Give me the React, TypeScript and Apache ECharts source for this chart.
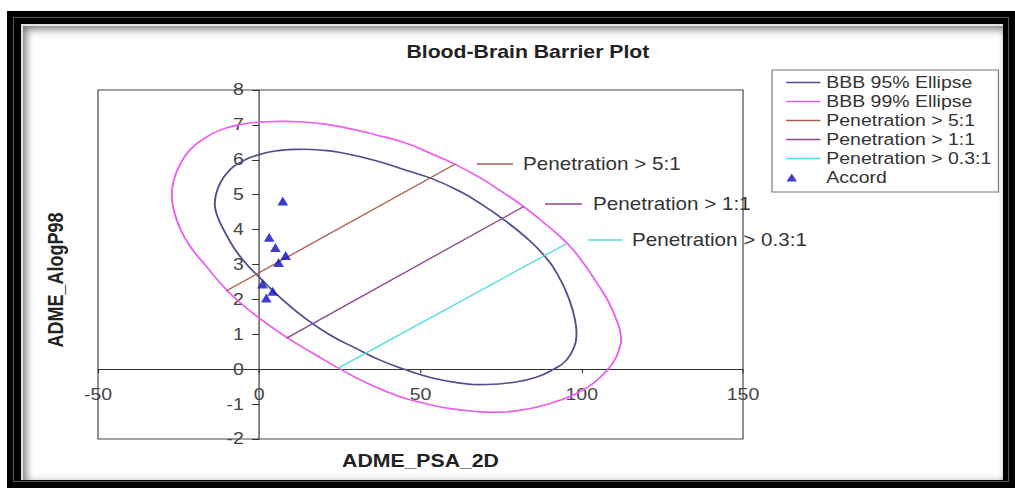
import React, { useEffect, useRef } from "react";
import * as echarts from "echarts";

// The reference picture is horizontally stretched; the chart is drawn in a
// narrower box and stretched with CSS to match it.
const SX = 1015 / 860;
const CW = 860;
const CH = 488;
const cx = (px: number) => px / SX;

const FONT = '"Liberation Sans", Arial, Helvetica, sans-serif';

// ---- data (ADME_PSA_2D, ADME_AlogP98) ----
const ellipse95: number[][] = [
  [-5.99, 5.92], [0.0, 6.15], [6.43, 6.27], [12.64, 6.3], [18.85, 6.28],
  [25.06, 6.21], [35.93, 5.98], [45.78, 5.69], [53.54, 5.46], [62.31, 5.09],
  [68.52, 4.75], [75.28, 4.32], [82.52, 3.79], [88.2, 3.27], [92.76, 2.67],
  [96.18, 1.98], [98.04, 1.35], [98.35, 0.98], [97.73, 0.66], [95.25, 0.26],
  [91.31, 0.0], [85.62, -0.24], [78.48, -0.38], [70.72, -0.44], [62.33, -0.4],
  [53.63, -0.25], [44.94, 0.0], [37.48, 0.26], [29.72, 0.61], [21.96, 0.98],
  [15.12, 1.4], [7.98, 1.93], [0.84, 2.56], [-5.68, 3.2], [-10.34, 3.87],
  [-13.14, 4.42], [-13.76, 4.7], [-13.45, 4.99], [-12.21, 5.31], [-9.72, 5.65],
];

const ellipse99: number[][] = [
  [-21.52, 6.28], [-16.86, 6.62], [-12.2, 6.85], [-5.99, 7.01], [0.22, 7.08],
  [6.43, 7.1], [12.64, 7.09], [18.85, 7.04], [25.06, 6.95], [35.93, 6.72],
  [45.78, 6.47], [53.01, 6.19], [60.78, 5.87], [68.54, 5.48], [75.37, 5.08],
  [81.99, 4.66], [88.73, 4.16], [95.47, 3.61], [100.53, 3.04], [104.78, 2.46],
  [108.29, 1.93], [110.78, 1.41], [112.17, 0.92], [111.55, 0.55], [109.84, 0.21],
  [107.36, -0.08], [103.32, -0.42], [98.05, -0.71], [90.28, -0.98], [82.52, -1.15],
  [74.75, -1.23], [66.99, -1.21], [59.23, -1.13], [51.46, -0.98], [43.7, -0.79],
  [34.38, -0.44], [24.53, 0.03], [16.77, 0.45], [8.51, 0.91], [0.22, 1.45],
  [-5.06, 1.84], [-10.12, 2.27], [-16.34, 2.94], [-21.52, 3.53], [-24.63, 4.05],
  [-26.49, 4.56], [-27.11, 4.99], [-26.49, 5.42], [-24.63, 5.85],
];

const pen5: number[][] = [[-10.3, 2.24], [60.8, 5.88]];
const pen1: number[][] = [[8.5, 0.89], [82.0, 4.66]];
const pen03: number[][] = [[24.5, 0.03], [95.5, 3.61]];

const accordPSA = [7.3, 3.1, 5.0, 8.2, 6.0, 1.0, 4.2, 2.2];
const accordAlogP = [4.82, 3.78, 3.49, 3.26, 3.06, 2.44, 2.23, 2.04];

const seriesNames = [
  "BBB 95% Ellipse",
  "BBB 99% Ellipse",
  "Penetration > 5:1",
  "Penetration > 1:1",
  "Penetration > 0.3:1",
  "Accord",
];

const xMin = -50, xMax = 150, xStep = 50;
const yMin = -2, yMax = 8, yStep = 1;
const xTitle = "ADME_PSA_2D";
const yTitle = "ADME_AlogP98";
const chartTitle = "Blood-Brain Barrier Plot";

const C95 = "#4f4f8f";
const C99 = "#ee5cee";
const C5 = "#a8604e";
const C1 = "#8e4a8e";
const C03 = "#55dddd";
const CACC = "#0c0cc4";

const LINE_ICON = "path://M0,0L29,0L29,1.6L0,1.6Z";
const TRI_ICON = "path://M5,0L10,9L0,9Z M32,9L32,9";

export default function App() {
  const ref = useRef<HTMLDivElement>(null);

  useEffect(() => {
    if (!ref.current) return;
    const chart = echarts.init(ref.current, null, { renderer: "svg" });

    const gridLeft = cx(98);
    const gridTop = 90;
    const gridWidth = cx(743) - cx(98);
    const gridHeight = 349;

    const ellipseSeries = (name: string, pts: number[][], color: string) => ({
      name,
      type: "custom",
      coordinateSystem: "cartesian2d",
      data: pts,
      encode: { x: 0, y: 1 },
      itemStyle: { color },
      silent: true,
      z: 3,
      renderItem: (params: any, api: any) => {
        if (params.dataIndex !== 0) return null;
        return {
          type: "polygon",
          shape: { points: pts.map((p) => api.coord(p)), smooth: 0.5 },
          style: { fill: "none", stroke: color, lineWidth: 1.6 },
        };
      },
    });
    const lineSeries = (name: string, data: number[][], color: string) => ({
      name,
      type: "line",
      data,
      symbol: "none",
      lineStyle: { color, width: 1.3 },
      itemStyle: { color },
      silent: true,
      z: 3,
    });
    const annot = (x1: number, x2: number, tx: number, y: number, text: string, color: string) => [
      { type: "line", shape: { x1: cx(x1), y1: y, x2: cx(x2), y2: y }, style: { stroke: color, lineWidth: 1.5 }, z: 10 },
      {
        type: "text",
        x: cx(tx),
        y,
        z: 10,
        style: { text, fill: "#333", fontSize: 17.5, fontFamily: FONT, verticalAlign: "middle", align: "left" },
      },
    ];

    chart.setOption({
      animation: false,
      title: {
        text: chartTitle,
        left: cx(522),
        top: 38,
        textAlign: "center",
        textStyle: { fontSize: 18, fontWeight: "bold", color: "#222", fontFamily: FONT },
      },
      grid: {
        left: gridLeft,
        top: gridTop,
        width: gridWidth,
        height: gridHeight,
        show: true,
        borderColor: "#444",
        borderWidth: 1,
        outerBoundsMode: "none",
      },
      xAxis: {
        type: "value",
        min: xMin,
        max: xMax,
        interval: xStep,
        axisLine: { onZero: false, lineStyle: { color: "#333", width: 1 } },
        axisTick: { show: true, length: 4, lineStyle: { color: "#333" } },
        axisLabel: { fontSize: 16.5, color: "#444", margin: 17, fontFamily: FONT },
        splitLine: { show: false },
      },
      yAxis: {
        type: "value",
        min: yMin,
        max: yMax,
        interval: yStep,
        axisLine: { onZero: false, lineStyle: { color: "#333", width: 1 } },
        axisTick: { show: true, length: 6, lineStyle: { color: "#333" } },
        axisLabel: { fontSize: 16.5, color: "#444", margin: 13, fontFamily: FONT },
        splitLine: { show: false },
      },
      legend: {
        orient: "vertical",
        left: cx(772),
        top: 70,
        padding: [3, 6, 5, 12],
        itemGap: 0,
        itemWidth: 29,
        itemHeight: 8,
        borderColor: "#777",
        borderWidth: 1,
        backgroundColor: "#fff",
        selectedMode: false,
        textStyle: { fontSize: 16.5, color: "#333", fontFamily: FONT, lineHeight: 19 },
        data: [
          { name: seriesNames[0], icon: LINE_ICON },
          { name: seriesNames[1], icon: LINE_ICON },
          { name: seriesNames[2], icon: LINE_ICON },
          { name: seriesNames[3], icon: LINE_ICON },
          { name: seriesNames[4], icon: LINE_ICON },
          { name: seriesNames[5], icon: TRI_ICON },
        ],
      },
      series: [
        ellipseSeries(seriesNames[0], ellipse95, C95),
        ellipseSeries(seriesNames[1], ellipse99, C99),
        lineSeries(seriesNames[2], pen5, C5),
        lineSeries(seriesNames[3], pen1, C1),
        lineSeries(seriesNames[4], pen03, C03),
        {
          name: seriesNames[5],
          type: "scatter",
          data: accordPSA.map((x, i) => [x, accordAlogP[i]]),
          symbol: "triangle",
          symbolSize: 9,
          itemStyle: { color: CACC },
          silent: true,
          z: 5,
        },
      ],
      graphic: [
        ...annot(477, 513, 523, 164, "Penetration > 5:1", C5),
        ...annot(545, 582, 593, 204, "Penetration > 1:1", C1),
        ...annot(588, 623, 632, 240, "Penetration > 0.3:1", C03),
        {
          type: "text",
          x: gridLeft + gridWidth / 2,
          y: 461,
          z: 10,
          style: {
            text: xTitle, fill: "#222", fontSize: 18, fontWeight: "bold", fontFamily: FONT,
            align: "center", verticalAlign: "middle",
          },
        },
        {
          type: "text",
          x: cx(55),
          y: 280,
          rotation: Math.PI / 2,
          z: 10,
          style: {
            text: yTitle, fill: "#222", fontSize: 18, fontWeight: "bold", fontFamily: FONT,
            align: "center", verticalAlign: "middle",
          },
        },
      ],
    });

    // Put both axes (line, ticks, labels) through the origin, as in the reference.
    const x0 = chart.convertToPixel({ xAxisIndex: 0 }, 0) as number;
    const y0 = chart.convertToPixel({ yAxisIndex: 0 }, 0) as number;
    chart.setOption({
      xAxis: { offset: -(gridTop + gridHeight - y0) },
      yAxis: { offset: -(x0 - gridLeft) },
    });

    return () => chart.dispose();
  }, []);

  return (
    <div style={{ position: "fixed", left: 0, top: 0, width: 1015, height: 488, background: "#fff", overflow: "hidden" }}>
      <div style={{ position: "absolute", left: 7, top: 11, right: 0, bottom: 0, background: "#000" }} />
      <div
        style={{
          position: "absolute",
          left: 13,
          top: 17,
          width: 996,
          height: 465,
          border: "1px solid #5a5a5a",
          boxSizing: "border-box",
        }}
      />
      <div
        style={{
          position: "absolute",
          left: 21,
          top: 24,
          width: 982,
          height: 456,
          background: "#fff",
          borderTop: "2px solid #e4e4e4",
          borderLeft: "2px solid #e4e4e4",
          boxShadow: "inset 3px 3px 9px rgba(0,0,0,0.55)",
          boxSizing: "border-box",
        }}
      />
      <div
        ref={ref}
        style={{
          position: "absolute",
          left: 0,
          top: 0,
          width: CW,
          height: CH,
          transform: `scaleX(${SX})`,
          transformOrigin: "0 0",
        }}
      />
    </div>
  );
}
